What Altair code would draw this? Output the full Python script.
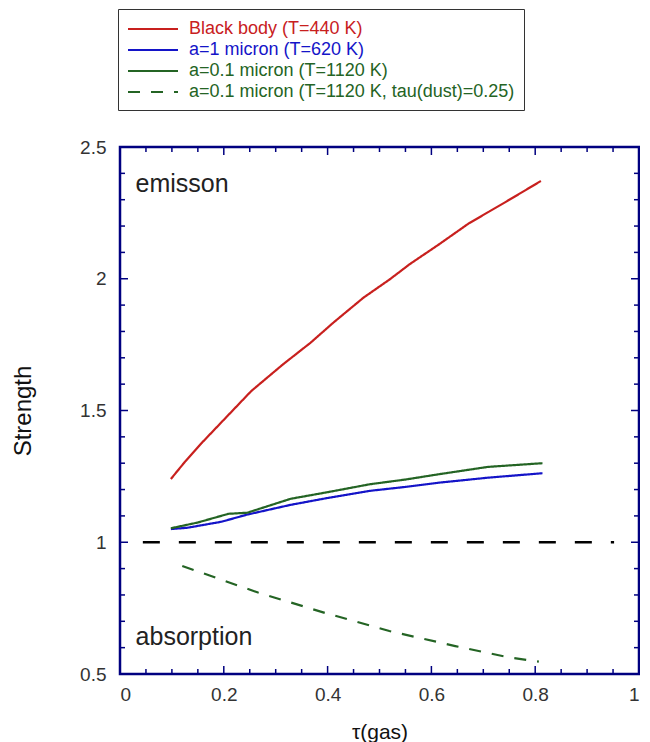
import altair as alt
import pandas as pd

# ---- data ----
series_names = [
    "Black body (T=440 K)",
    "a=1 micron (T=620 K)",
    "a=0.1 micron (T=1120 K)",
    "a=0.1 micron (T=1120 K, tau(dust)=0.25)",
]
series_colors = ["#c8201e", "#1414c8", "#246424", "#246424"]

bb_x = [0.098, 0.125, 0.158, 0.205, 0.253, 0.314, 0.367, 0.412, 0.469, 0.520, 0.558, 0.615, 0.672, 0.741, 0.811]
bb_y = [1.240, 1.305, 1.378, 1.475, 1.574, 1.675, 1.757, 1.835, 1.928, 1.998, 2.055, 2.131, 2.210, 2.289, 2.371]

a1_x = [0.098, 0.130, 0.196, 0.245, 0.329, 0.400, 0.481, 0.550, 0.614, 0.709, 0.814]
a1_y = [1.050, 1.055, 1.078, 1.105, 1.142, 1.168, 1.195, 1.210, 1.226, 1.245, 1.262]

a01_x = [0.098, 0.150, 0.209, 0.245, 0.329, 0.400, 0.481, 0.550, 0.614, 0.709, 0.814]
a01_y = [1.053, 1.075, 1.108, 1.112, 1.165, 1.190, 1.220, 1.238, 1.258, 1.286, 1.300]

dust_x = [0.120, 0.266, 0.393, 0.519, 0.646, 0.747, 0.807]
dust_y = [0.910, 0.809, 0.733, 0.663, 0.606, 0.564, 0.547]

unity_x = [0.044, 0.952]
unity_y = [1.0, 1.0]

note_text = ["emisson", "absorption"]
note_x = [0.03, 0.03]
note_y = [2.36, 0.64]

x_major = [0, 0.2, 0.4, 0.6, 0.8, 1.0]
x_minor = [0.05, 0.1, 0.15, 0.25, 0.3, 0.35, 0.45, 0.5, 0.55, 0.65, 0.7, 0.75, 0.85, 0.9, 0.95]
y_major = [0.5, 1.0, 1.5, 2.0, 2.5]
y_minor = [0.6, 0.7, 0.8, 0.9, 1.1, 1.2, 1.3, 1.4, 1.6, 1.7, 1.8, 1.9, 2.1, 2.2, 2.3, 2.4]

# ---- tables ----
rows = []
for name, xs, ys in zip(series_names, [bb_x, a1_x, a01_x, dust_x], [bb_y, a1_y, a01_y, dust_y]):
    for i, (xv, yv) in enumerate(zip(xs, ys)):
        rows.append({"series": name, "x": xv, "y": yv, "order": i})
lines_df = pd.DataFrame(rows)
unity_df = pd.DataFrame({"x": unity_x, "y": unity_y})
notes_df = pd.DataFrame({"text": note_text, "x": note_x, "y": note_y})
xmaj_df = pd.DataFrame({"x": x_major})
xmin_df = pd.DataFrame({"x": x_minor})
ymaj_df = pd.DataFrame({"y": y_major})
ymin_df = pd.DataFrame({"y": y_minor})

W, H = 519, 527
FONT = "Liberation Sans"
NAVY = "#000080"

xscale = alt.Scale(domain=[0, 1], nice=False, zero=False)
yscale = alt.Scale(domain=[0.5, 2.5], nice=False, zero=False)

xaxis = alt.Axis(
    title="τ(gas)", values=x_major, format="~g", grid=False, ticks=False, tickSize=0,
    domain=False, labelFontSize=19, labelColor="#333333", labelPadding=11, labelFont=FONT,
    titleFont=FONT, titleFontSize=21, titleFontWeight="normal", titleColor="#111111",
    titleY=64, titleBaseline="alphabetic",
)
yaxis = alt.Axis(
    title="Strength", values=y_major, format="~g", grid=False, ticks=False, tickSize=0,
    domain=False, labelFontSize=19, labelColor="#333333", labelPadding=14, labelFont=FONT,
    titleFont=FONT, titleFontSize=24, titleFontWeight="normal", titleColor="#111111",
    titleAngle=270, titleX=-90, titleY=H / 2, titleBaseline="alphabetic", titleAlign="center",
)

X = lambda f: alt.X(f, scale=xscale, axis=xaxis)
Y = lambda f: alt.Y(f, scale=yscale, axis=yaxis)

label_color_expr = (
    "datum.label == '" + series_names[0] + "' ? '" + series_colors[0] + "' : "
    "(datum.label == '" + series_names[1] + "' ? '" + series_colors[1] + "' : '" + series_colors[2] + "')"
)

lines = alt.Chart(lines_df).mark_line(strokeWidth=2.2, clip=False).encode(
    x=X("x:Q"),
    y=Y("y:Q"),
    order="order:Q",
    color=alt.Color(
        "series:N",
        scale=alt.Scale(domain=series_names, range=series_colors),
        legend=alt.Legend(
            title=None, orient="none", legendX=-2, legendY=-138,
            symbolType="M-1,0L4,0", symbolSize=400, symbolStrokeWidth=2,
            labelFont=FONT, labelFontSize=18, labelOffset=40, rowPadding=1,
            labelColor=alt.ExprRef(expr=label_color_expr), labelLimit=500,
            padding=9, strokeColor="#333333", fillColor="white",
        ),
    ),
    strokeDash=alt.StrokeDash(
        "series:N",
        scale=alt.Scale(domain=series_names, range=[[1, 0], [1, 0], [1, 0], [12, 11]]),
        legend=alt.Legend(title=None),
    ),
)

unity = alt.Chart(unity_df).mark_line(color="black", strokeWidth=2.6, strokeDash=[17, 19]).encode(
    x=X("x:Q"), y=Y("y:Q")
)

notes = alt.Chart(notes_df).mark_text(
    align="left", baseline="middle", font=FONT, fontSize=25, color="#222222"
).encode(x=X("x:Q"), y=Y("y:Q"), text="text:N")

def xticks(df, size):
    bottom = alt.Chart(df).mark_rule(color=NAVY, strokeWidth=1.5).encode(
        x=X("x:Q"), y=alt.value(H), y2=alt.value(H - size))
    top = alt.Chart(df).mark_rule(color=NAVY, strokeWidth=1.5).encode(
        x=X("x:Q"), y=alt.value(0), y2=alt.value(size))
    return [bottom, top]

def yticks(df, size):
    left = alt.Chart(df).mark_rule(color=NAVY, strokeWidth=1.5).encode(
        y=Y("y:Q"), x=alt.value(0), x2=alt.value(size))
    right = alt.Chart(df).mark_rule(color=NAVY, strokeWidth=1.5).encode(
        y=Y("y:Q"), x=alt.value(W), x2=alt.value(W - size))
    return [left, right]

layers = [lines, unity, notes] + xticks(xmaj_df, 8) + xticks(xmin_df, 5) + yticks(ymaj_df, 8) + yticks(ymin_df, 5)

chart = alt.layer(*layers).properties(
    width=W, height=H,
    padding={"left": 3, "top": 0, "right": 0, "bottom": 0},
).configure_view(stroke=NAVY, strokeWidth=2.5)

chart.save("out.html", embed_options={"renderer": "svg", "actions": False})
